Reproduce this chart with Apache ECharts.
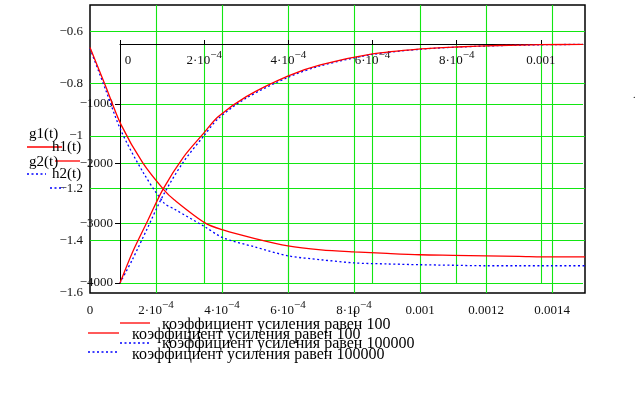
<!DOCTYPE html>
<html>
<head>
<meta charset="utf-8">
<script src="https://cdn.jsdelivr.net/npm/echarts@6/dist/echarts.min.js"></script>
<style>
  html, body { margin: 0; padding: 0; background: #fff; }
  #chart { width: 639px; height: 398px; }
</style>
</head>
<body>
<div id="chart"></div>
<script>
// decaying curves g1, g2 (outer plot)
const tG = [0, 0.000048, 0.000094, 0.00016, 0.000224, 0.000255, 0.000348, 0.000403, 0.0005, 0.0006, 0.0007, 0.0008, 0.0009, 0.001, 0.0011, 0.0012, 0.0013, 0.0014, 0.0015];
const g1 = [-0.662, -0.812, -0.957, -1.103, -1.206, -1.244, -1.332, -1.359, -1.392, -1.42, -1.435, -1.443, -1.449, -1.454, -1.456, -1.458, -1.46, -1.462, -1.462];
const g2 = [-0.666, -0.826, -0.98, -1.137, -1.256, -1.279, -1.347, -1.389, -1.424, -1.458, -1.473, -1.485, -1.489, -1.492, -1.494, -1.496, -1.496, -1.496, -1.496];

// rising curves h1, h2 (inner plot)
const tH = [0, 0.00003, 0.000064, 0.000102, 0.00015, 0.0002, 0.000233, 0.0003, 0.0004, 0.000476, 0.0006, 0.000714, 0.0008, 0.0009, 0.001, 0.0011];
const h1 = [-4000, -3480, -2983, -2433, -1900, -1483, -1217, -880, -533, -350, -167, -83, -50, -25, -12, -5];
const h2 = [-4000, -3600, -3100, -2540, -1980, -1530, -1250, -905, -555, -365, -175, -88, -52, -27, -13, -6];

// tick labels ("^" marks the exponent)
const outerXTicks = ['0', '2·10^−4', '4·10^−4', '6·10^−4', '8·10^−4', '0.001', '0.0012', '0.0014'];
const outerYTicks = ['−1.6', '−1.4', '−1.2', '−1', '−0.8', '−0.6'];
const innerXTicks = ['0', '2·10^−4', '4·10^−4', '6·10^−4', '8·10^−4', '0.001'];
const innerYTicks = ['−4000', '−3000', '−2000', '−1000', '0'];

const curveNames = ['g1(t)', 'h1(t)', 'g2(t)', 'h2(t)'];
const legendNames = ['коэффициент усиления равен 100', 'коэффициент усиления равен 100000'];

const FONT = '"Liberation Serif", "Times New Roman", serif';
const GREEN = '#12e612';
const RED = '#ff0000';
const BLUE = '#0000ff';
const DOTS = [2, 2.5];

function pairs(xs, ys) {
  return xs.map((x, i) => [x, ys[i]]);
}

function tickText(s, first) {
  const parts = s.split('^');
  if (parts.length > 1) return '{n|' + parts[0] + '}{e|' + parts[1] + '}';
  return first ? '{z|' + s + '}' : '{n|' + s + '}';
}

const rich = {
  n: { fontFamily: FONT, fontSize: 13, color: '#111', lineHeight: 26 },
  z: { fontFamily: FONT, fontSize: 13, color: '#111', lineHeight: 26 },
  e: { fontFamily: FONT, fontSize: 11, color: '#111', padding: [0, 0, 12, 0] }
};

let myChart = echarts.init(document.getElementById('chart'));

function legendLine(x1, x2, y, color, dashed) {
  return {
    type: 'line',
    shape: { x1: x1, y1: y, x2: x2, y2: y },
    style: { stroke: color, lineWidth: 1.3, lineDash: dashed ? DOTS : null },
    z: 10
  };
}

function label(text, x, y, size) {
  return {
    type: 'text',
    style: {
      text: text, x: x, y: y,
      font: size + 'px ' + FONT,
      fill: '#000',
      textVerticalAlign: 'middle',
      verticalAlign: 'middle'
    },
    z: 11
  };
}

const greenLine = { show: true, showMinLine: false, showMaxLine: false, lineStyle: { color: GREEN, width: 1.1 } };

myChart.setOption({
  animation: false,
  grid: [
    { left: 90, top: 5, width: 495, height: 288, show: true, borderColor: '#000', borderWidth: 1.5, backgroundColor: 'transparent' },
    { left: 120, top: 44, width: 463, height: 239 }
  ],
  xAxis: [
    {
      type: 'value', gridIndex: 0, min: 0, max: 0.0015, interval: 0.0002,
      axisLine: { show: false }, axisTick: { show: false },
      axisLabel: {
        margin: 5, showMaxLabel: false,
        formatter: (v) => tickText(outerXTicks[Math.round(v / 0.0002)] || '', false),
        rich: rich
      },
      splitLine: greenLine
    },
    {
      type: 'value', gridIndex: 1, position: 'top', min: 0, max: 0.0011, interval: 0.0002,
      axisLine: { show: true, onZero: false, lineStyle: { color: '#000', width: 1 } },
      axisTick: { show: true, length: 4, lineStyle: { color: '#000' } },
      axisLabel: {
        inside: true, margin: 4, showMaxLabel: false,
        formatter: (v) => tickText(innerXTicks[Math.round(v / 0.0002)] || '', v === 0),
        rich: Object.assign({}, rich, { z: Object.assign({}, rich.z, { padding: [0, 0, 0, 16] }) })
      },
      splitLine: greenLine
    }
  ],
  yAxis: [
    {
      type: 'value', gridIndex: 0, min: -1.6, max: -0.5, interval: 0.2,
      axisLine: { show: false }, axisTick: { show: false },
      axisLabel: {
        margin: 7, showMaxLabel: false,
        fontFamily: FONT, fontSize: 13, color: '#111',
        formatter: (v) => outerYTicks[Math.round((v + 1.6) / 0.2)] || ''
      },
      splitLine: greenLine
    },
    {
      type: 'value', gridIndex: 1, min: -4000, max: 0, interval: 1000,
      axisLine: { show: true, onZero: false, lineStyle: { color: '#000', width: 1 } },
      axisTick: { show: true, length: 5, lineStyle: { color: '#000' } },
      axisLabel: {
        margin: 7, showMaxLabel: false,
        fontFamily: FONT, fontSize: 13, color: '#111',
        formatter: (v) => innerYTicks[Math.round((v + 4000) / 1000)] || ''
      },
      splitLine: Object.assign({}, greenLine, { showMinLine: true })
    }
  ],
  series: [
    {
      name: curveNames[0], type: 'line', xAxisIndex: 0, yAxisIndex: 0, z: 5,
      data: pairs(tG, g1), smooth: 0.3, showSymbol: false,
      lineStyle: { color: RED, width: 1.3 }
    },
    {
      name: curveNames[2], type: 'line', xAxisIndex: 0, yAxisIndex: 0, z: 4,
      data: pairs(tG, g2), smooth: 0.3, showSymbol: false,
      lineStyle: { color: BLUE, width: 1.3, type: DOTS }
    },
    {
      name: curveNames[1], type: 'line', xAxisIndex: 1, yAxisIndex: 1, z: 5,
      data: pairs(tH, h1), smooth: 0.3, showSymbol: false,
      lineStyle: { color: RED, width: 1.3 }
    },
    {
      name: curveNames[3], type: 'line', xAxisIndex: 1, yAxisIndex: 1, z: 4,
      data: pairs(tH, h2), smooth: 0.3, showSymbol: false,
      lineStyle: { color: BLUE, width: 1.3, type: DOTS }
    }
  ],
  graphic: [
    // axis-side curve names
    legendLine(27, 62, 147, RED, false),
    legendLine(55, 80, 161, RED, false),
    legendLine(27, 46, 174, BLUE, true),
    legendLine(50, 64, 188, BLUE, true),
    label(curveNames[0], 29, 134, 15),
    label(curveNames[1], 52, 147, 15),
    label(curveNames[2], 29, 162, 15),
    label(curveNames[3], 52, 174, 15),
    // legend below
    legendLine(120, 150, 323, RED, false),
    legendLine(88, 119, 333, RED, false),
    legendLine(120, 150, 343, BLUE, true),
    legendLine(88, 119, 352, BLUE, true),
    label(legendNames[0], 162, 325, 16),
    label(legendNames[0], 132, 335, 16),
    label(legendNames[1], 162, 344, 16),
    label(legendNames[1], 132, 355, 16),
    // axis variable
    label('t', 353, 314, 13),
    label('.', 633, 95, 10)
  ]
});

window.addEventListener('resize', function () {
  myChart.resize();
});
</script>
</body>
</html>
